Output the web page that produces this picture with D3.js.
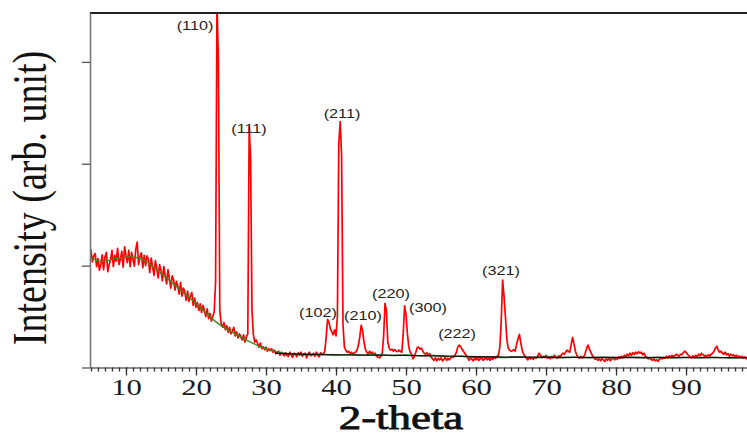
<!DOCTYPE html>
<html>
<head>
<meta charset="utf-8">
<script src="https://cdn.jsdelivr.net/npm/d3@7/dist/d3.min.js"></script>
<style>
  html, body { margin: 0; padding: 0; background: #ffffff; }
  svg { display: block; }
</style>
</head>
<body>
<svg id="chart" width="747" height="436"></svg>
<script>
// XRD scan: counts recorded every 0.2 degrees 2-theta, starting at 4.8
const scanStart = 4.8;
const scanStep = 0.2;
const intensity = [
  1180, 1150, 1040, 1095, 1120, 990, 1070, 955, 1010, 1105,
  960, 1085, 1130, 940, 1010, 1060, 1150, 990, 1100, 1045,
  1170, 1010, 1060, 1140, 985, 1185, 1100, 1030, 1150, 990,
  1130, 1060, 995, 1160, 1230, 1010, 1090, 1125, 980, 1100,
  1000, 1095, 1060, 930, 1075, 990, 905, 1050, 975, 880,
  1010, 950, 850, 990, 905, 820, 960, 870, 780, 900,
  860, 760, 845, 800, 720, 835, 700, 780, 745, 660,
  750, 650, 700, 735, 610, 680, 590, 640, 560, 625,
  540, 610, 560, 500, 575, 480, 530, 455, 500, 545,
  840, 3600, 3000, 560, 430, 395, 440, 370, 410, 345,
  395, 330, 360, 395, 310, 350, 290, 330, 305, 270,
  320, 250, 300, 330, 2365, 2050, 560, 320, 250, 270,
  235, 200, 240, 185, 205, 175, 200, 160, 185, 165,
  185, 150, 170, 135, 150, 160, 120, 150, 135, 115,
  145, 120, 110, 150, 125, 100, 140, 130, 105, 145,
  120, 150, 110, 130, 140, 95, 130, 150, 115, 125,
  140, 110, 150, 120, 105, 145, 125, 135, 160, 300,
  473, 440, 380, 350, 320, 370, 310, 500, 2200, 2414,
  2080, 420, 200, 170, 150, 160, 140, 150, 130, 145,
  150, 170, 220, 300, 414, 360, 250, 180, 150, 130,
  160, 140, 150, 130, 140, 110, 100, 95, 110, 140,
  300, 630, 560, 250, 190, 170, 180, 160, 175, 160,
  155, 170, 160, 150, 330, 604, 520, 330, 200, 150,
  130, 85, 110, 150, 195, 200, 180, 190, 160, 140,
  130, 145, 120, 135, 100, 85, 70, 95, 65, 90,
  75, 95, 65, 80, 100, 70, 90, 75, 95, 110,
  100, 120, 150, 200, 220, 205, 180, 160, 140, 120,
  95, 70, 100, 80, 65, 90, 75, 100, 70, 85,
  95, 70, 80, 100, 75, 90, 70, 95, 80, 105,
  90, 110, 120, 200, 450, 857, 700, 500, 280, 190,
  170, 160, 165, 175, 160, 230, 280, 325, 240, 170,
  130, 110, 90, 75, 100, 85, 95, 80, 100, 90,
  110, 140, 120, 95, 110, 100, 120, 90, 105, 85,
  110, 95, 120, 100, 90, 115, 100, 125, 140, 130,
  150, 170, 160, 150, 230, 296, 230, 160, 120, 100,
  90, 110, 95, 105, 140, 190, 220, 180, 150, 120,
  100, 80, 95, 70, 85, 65, 90, 75, 60, 85,
  70, 90, 65, 85, 100, 75, 95, 80, 105, 90,
  110, 95, 120, 105, 130, 115, 140, 120, 145, 130,
  150, 135, 155, 140, 150, 125, 140, 110, 100, 85,
  95, 80, 70, 85, 65, 75, 60, 80, 95, 85,
  100, 90, 110, 95, 115, 100, 120, 105, 115, 130,
  120, 110, 130, 125, 145, 160, 150, 130, 115, 105,
  95, 115, 100, 120, 105, 130, 115, 140, 125, 110,
  120, 100, 125, 110, 130, 140, 160, 190, 210, 170,
  150, 160, 140, 130, 150, 125, 135, 110, 130, 115,
  125, 105, 120, 100, 115, 95, 110, 90, 105, 85, 100
];

// smoothed amorphous background (2-theta, counts)
const backgroundFit = [
  [4.86, 1084], [5.5, 1058], [6.5, 1036], [7.5, 1050], [8.5, 1072], [9.5, 1082],
  [10.5, 1086], [11.5, 1082], [12.5, 1062], [13.5, 1008], [14.5, 955], [15.5, 896],
  [16.5, 837], [17.5, 778], [18.5, 719], [19.5, 660], [20.5, 598], [21.5, 532],
  [22.5, 465], [23.5, 414], [24.5, 374], [25.5, 335], [26.5, 296], [27.5, 258],
  [28.5, 227], [29.5, 197], [30.5, 172], [31.5, 153], [32.5, 140], [34, 134],
  [36, 118], [38, 136], [40, 114], [42, 134], [44, 112], [46, 132], [48, 110],
  [50, 130], [52, 108], [54, 124], [56, 100], [58, 118], [60, 92], [62, 110],
  [64, 90], [66, 110], [68, 88], [70, 108], [72, 88], [74, 108], [76, 88],
  [78, 108], [80, 88], [82, 108], [84, 88], [86, 106], [88, 88], [90, 106],
  [92, 88], [94, 106], [96, 88], [98.71, 98]
];

// linear baseline under the crystalline reflections
const baseline = [
  [31.3, 140], [35, 130], [40, 124], [50, 120], [56, 112], [62, 102], [70, 99], [98.71, 97]
];

// Miller indices of the indexed reflections and where their tags sit
const reflectionHkl = ["(110)", "(111)", "(211)", "(102)", "(210)", "(220)", "(300)", "(222)", "(321)"];
const reflectionTagTheta = [19.86, 27.57, 40.86, 37.43, 43.86, 47.86, 53.14, 57.29, 63.57];
const reflectionTagCounts = [3313, 2302, 2454, 496, 466, 682, 545, 290, 908];

const xMajorTicks = [10, 20, 30, 40, 50, 60, 70, 80, 90];
const yTicks = [0, 1000, 2000, 3000];

const svg = d3.select("#chart");
const plotLeft = 90, plotRight = 747, plotTop = 13, plotBottom = 367.5;

const x = d3.scaleLinear().domain([4.86, 98.71]).range([plotLeft, plotRight]);
const y = d3.scaleLinear().domain([0, 3480]).range([plotBottom, plotTop]);

const scan = intensity.map((v, i) => [scanStart + i * scanStep, v]);

svg.append("defs").append("clipPath").attr("id", "plotClip")
  .append("rect").attr("x", plotLeft).attr("y", plotTop)
  .attr("width", plotRight - plotLeft).attr("height", plotBottom - plotTop);

const plot = svg.append("g").attr("clip-path", "url(#plotClip)");

const line = d3.line().x(d => x(d[0])).y(d => y(d[1]));
const smooth = d3.line().x(d => x(d[0])).y(d => y(d[1])).curve(d3.curveBasis);

plot.append("path").datum(scan)
  .attr("d", line)
  .attr("fill", "none").attr("stroke", "#ff0000")
  .attr("stroke-width", 1.7).attr("stroke-linejoin", "round");

plot.append("path").datum(backgroundFit)
  .attr("d", smooth)
  .attr("fill", "none").attr("stroke", "#3c8a1c").attr("stroke-width", 1.4);

plot.append("path").datum(baseline)
  .attr("d", smooth)
  .attr("fill", "none").attr("stroke", "#111111").attr("stroke-width", 1.4);

// frame: top border
svg.append("line")
  .attr("x1", plotLeft).attr("x2", plotRight).attr("y1", plotTop).attr("y2", plotTop)
  .attr("stroke", "#222").attr("stroke-width", 2);

// x axis: minor ticks every degree, longer labelled ticks every 10
const minorAxis = d3.axisBottom(x)
  .tickValues(d3.range(5, 99, 1))
  .tickSize(4).tickSizeOuter(0).tickFormat("");
const gMinor = svg.append("g").attr("transform", `translate(0,${plotBottom})`).call(minorAxis);
gMinor.select(".domain").attr("stroke", "#666").attr("stroke-width", 1.6);
gMinor.selectAll(".tick line").attr("stroke", "#333").attr("stroke-width", 1.3);

const majorAxis = d3.axisBottom(x)
  .tickValues(xMajorTicks).tickSize(8).tickSizeOuter(0).tickPadding(2);
const gMajor = svg.append("g").attr("transform", `translate(0,${plotBottom})`).call(majorAxis);
gMajor.select(".domain").remove();
gMajor.selectAll(".tick line").attr("stroke", "#333").attr("stroke-width", 1.3);
gMajor.selectAll(".tick text")
  .attr("font-family", "'Liberation Serif', 'Times New Roman', serif")
  .attr("font-size", 24).attr("fill", "#1a1a1a")
  .attr("transform", "scale(1.28,1)")
  .attr("x", 0);

// y axis: unlabelled ticks
const yAxis = d3.axisLeft(y).tickValues(yTicks).tickSize(8).tickSizeOuter(0).tickFormat("");
const gY = svg.append("g").attr("transform", `translate(${plotLeft},0)`).call(yAxis);
gY.select(".domain").attr("stroke", "#777").attr("stroke-width", 1.6);
gY.selectAll(".tick line").attr("stroke", "#555").attr("stroke-width", 1.3);

// axis titles
svg.append("text")
  .attr("transform", "translate(46,198) scale(1.25,1) rotate(-90)")
  .attr("text-anchor", "middle")
  .attr("font-family", "'Liberation Serif', 'Times New Roman', serif")
  .attr("font-size", 38).attr("fill", "#111")
  .text("Intensity (arb. unit)");

svg.append("text")
  .attr("transform", "translate(401,429) scale(1.36,1)")
  .attr("text-anchor", "middle")
  .attr("font-family", "'Liberation Serif', 'Times New Roman', serif")
  .attr("font-size", 33).attr("fill", "#111")
  .attr("stroke", "#111").attr("stroke-width", 0.8)
  .text("2-theta");

// reflection tags
svg.append("g").selectAll("text")
  .data(reflectionHkl)
  .join("text")
  .attr("transform", (d, i) => `translate(${x(reflectionTagTheta[i])},${y(reflectionTagCounts[i])}) scale(1.2,1)`)
  .attr("text-anchor", "middle")
  .attr("font-family", "'Liberation Sans', Arial, sans-serif")
  .attr("font-size", 13.5).attr("fill", "#222")
  .text(d => d);
</script>
</body>
</html>
